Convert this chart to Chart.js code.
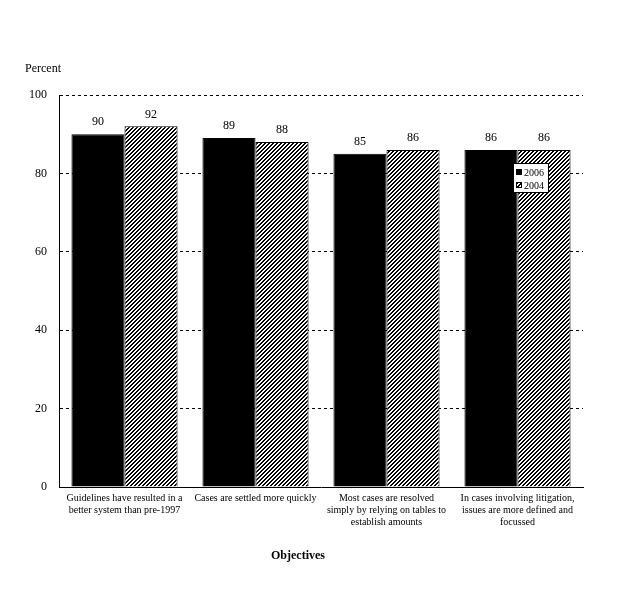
<!DOCTYPE html>
<html>
<head>
<meta charset="utf-8">
<script src="https://cdn.jsdelivr.net/npm/chart.js@4"></script>
<style>
  html, body { margin: 0; padding: 0; background: #fff; }
  #wrap { width: 618px; height: 604px; }
</style>
</head>
<body>
<div id="wrap"><canvas id="chart" width="618" height="604"></canvas></div>
<script>
// categories and values
const categories = [
    ["Guidelines have resulted in a", "better system than pre-1997"],
    ["Cases are settled more quickly"],
    ["Most cases are resolved", "simply by relying on tables to", "establish amounts"],
    ["In cases involving litigation,", "issues are more defined and", "focussed"]
];
const seriesNames = ["2006", "2004"];
const values2006 = [90, 89, 85, 86];
const values2004 = [92, 88, 86, 86];
const yTicks = [0, 20, 40, 60, 80, 100];

const FONT = "'Liberation Serif', 'Times New Roman', serif";

// diagonal hatch fill for the 2004 bars, drawn pixel by pixel so it stays crisp
function hatch() {
    const c = document.createElement("canvas");
    c.width = 4; c.height = 4;
    const g = c.getContext("2d");
    g.fillStyle = "#fff";
    g.fillRect(0, 0, 4, 4);
    g.fillStyle = "#000";
    for (let y = 0; y < 4; y++) {
        g.fillRect((3 - y + 4) % 4, y, 1, 1);
        g.fillRect((4 - y) % 4, y, 1, 1);
    }
    return document.getElementById("chart").getContext("2d").createPattern(c, "repeat");
}
const hatchFill = hatch();

// numbers over the bars, axis captions and the small legend box
const extras = {
    id: "extras",
    afterDatasetsDraw(chart) {
        const ctx = chart.ctx;
        ctx.save();
        ctx.fillStyle = "#000";
        ctx.font = "12px " + FONT;
        ctx.textAlign = "center";
        ctx.textBaseline = "bottom";
        chart.data.datasets.forEach((ds, i) => {
            chart.getDatasetMeta(i).data.forEach((bar, j) => {
                ctx.fillText(ds.data[j], bar.x, bar.y - 6);
            });
        });
        ctx.restore();
    },
    afterDraw(chart) {
        const ctx = chart.ctx;
        ctx.save();
        ctx.fillStyle = "#000";
        ctx.textBaseline = "middle";
        ctx.font = "12px " + FONT;
        ctx.textAlign = "left";
        ctx.fillText("Percent", 25, 69);
        ctx.font = "bold 12px " + FONT;
        ctx.textAlign = "center";
        ctx.fillText("Objectives", 298, 556);

        // legend
        const lx = 513, ly = 163;
        ctx.fillStyle = "#fff";
        ctx.fillRect(lx, ly, 35, 29);
        ctx.strokeStyle = "#000";
        ctx.lineWidth = 1;
        ctx.strokeRect(lx + 0.5, ly + 0.5, 35, 29);
        ctx.font = "10px " + FONT;
        ctx.textAlign = "left";
        const fills = ["#000", hatchFill];
        seriesNames.forEach((name, i) => {
            const y = ly + 9 + i * 13;
            ctx.fillStyle = fills[i];
            ctx.fillRect(lx + 3, y - 3, 6, 6);
            ctx.strokeRect(lx + 3.5, y - 2.5, 5, 5);
            ctx.fillStyle = "#000";
            ctx.fillText(name, lx + 11, y + 1);
        });
        ctx.restore();
    }
};

new Chart(document.getElementById("chart"), {
    type: "bar",
    data: {
        labels: categories,
        datasets: [
            {
                label: seriesNames[0],
                data: values2006,
                backgroundColor: "#000",
                borderColor: "#000",
                borderWidth: 1,
                categoryPercentage: 0.81,
                barPercentage: 1.0
            },
            {
                label: seriesNames[1],
                data: values2004,
                backgroundColor: hatchFill,
                borderColor: "#000",
                borderWidth: 1,
                categoryPercentage: 0.81,
                barPercentage: 1.0
            }
        ]
    },
    options: {
        responsive: false,
        devicePixelRatio: 1,
        animation: false,
        layout: { padding: { top: 95, right: 35, bottom: 0, left: 0 } },
        plugins: {
            legend: { display: false },
            tooltip: { enabled: false }
        },
        scales: {
            x: {
                grid: { display: false, drawTicks: false },
                border: { display: true, color: "#000", width: 1 },
                ticks: {
                    color: "#000",
                    font: { family: FONT, size: 10 },
                    padding: 5,
                    maxRotation: 0,
                    autoSkip: false
                },
                afterFit(scale) { scale.height = 117; }
            },
            y: {
                min: 0,
                max: 100,
                afterBuildTicks(scale) { scale.ticks = yTicks.map(v => ({ value: v })); },
                grid: { color: "#000", drawTicks: false, lineWidth: 1 },
                border: { display: true, color: "#000", width: 1, dash: [3, 3] },
                ticks: {
                    color: "#000",
                    font: { family: FONT, size: 12 },
                    padding: 12
                },
                afterFit(scale) { scale.width = 59; }
            }
        }
    },
    plugins: [extras]
});
</script>
</body>
</html>
